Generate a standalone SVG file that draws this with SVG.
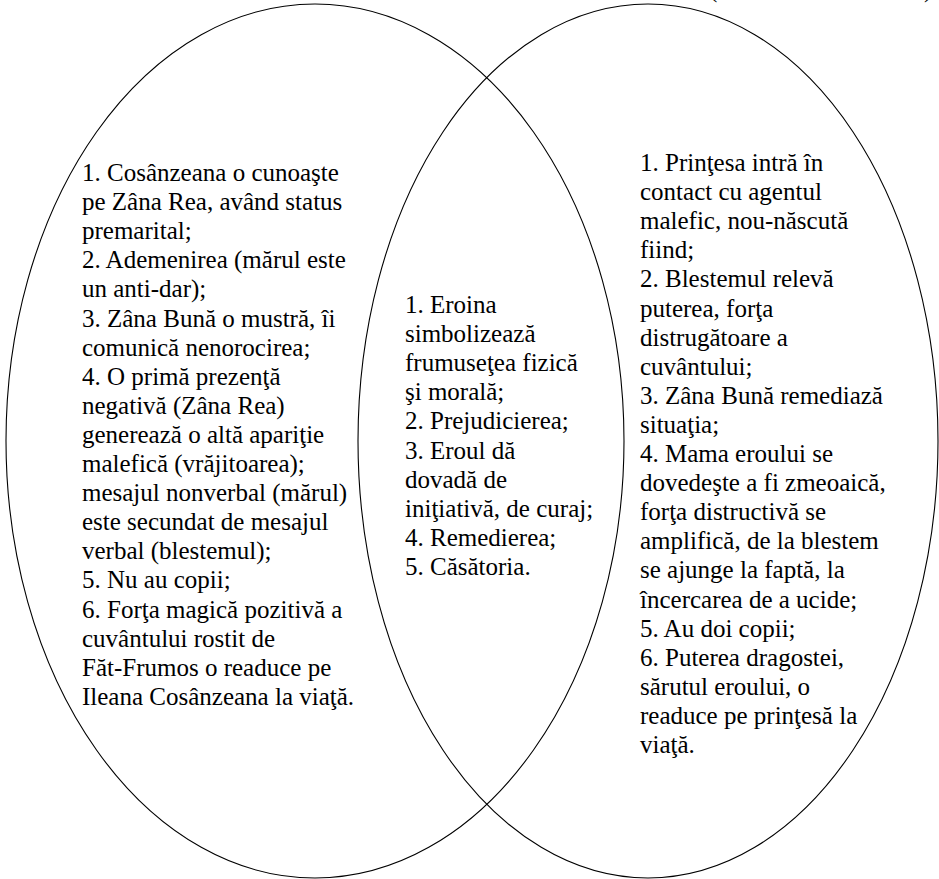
<svg xmlns="http://www.w3.org/2000/svg" width="939" height="879" viewBox="0 0 939 879">
<style>
.ell{fill:none;stroke:#000;stroke-width:1.1}
text{font-family:Tinos,'Liberation Serif','Noto Serif','DejaVu Serif',Times,'Times New Roman',serif;font-size:25px;fill:#000}
</style>
<rect width="939" height="879" fill="#fff"/>
<g id="connectors"></g>
<g id="cut-label">
<text x="709" y="-3">(</text>
<text x="924" y="-3">)</text>
</g>
<g id="left-set">
<ellipse class="ell" cx="315" cy="441" rx="309" ry="437"/>
<text>
<tspan x="82" y="181">1. Cosânzeana o cunoaşte</tspan>
<tspan x="82" dy="29.1">pe Zâna Rea, având status</tspan>
<tspan x="82" dy="29.1">premarital;</tspan>
<tspan x="82" dy="29.1">2. Ademenirea (mărul este</tspan>
<tspan x="82" dy="29.1">un anti-dar);</tspan>
<tspan x="82" dy="29.1">3. Zâna Bună o mustră, îi</tspan>
<tspan x="82" dy="29.1">comunică nenorocirea;</tspan>
<tspan x="82" dy="29.1">4. O primă prezenţă</tspan>
<tspan x="82" dy="29.1">negativă (Zâna Rea)</tspan>
<tspan x="82" dy="29.1">generează o altă apariţie</tspan>
<tspan x="82" dy="29.1">malefică (vrăjitoarea);</tspan>
<tspan x="82" dy="29.1">mesajul nonverbal (mărul)</tspan>
<tspan x="82" dy="29.1">este secundat de mesajul</tspan>
<tspan x="82" dy="29.1">verbal (blestemul);</tspan>
<tspan x="82" dy="29.1">5. Nu au copii;</tspan>
<tspan x="82" dy="29.1">6. Forţa magică pozitivă a</tspan>
<tspan x="82" dy="29.1">cuvântului rostit de</tspan>
<tspan x="82" dy="29.1">Făt-Frumos o readuce pe</tspan>
<tspan x="82" dy="29.1">Ileana Cosânzeana la viaţă.</tspan>
</text>
</g>
<g id="right-set">
<ellipse class="ell" cx="648" cy="441" rx="290" ry="437"/>
<text>
<tspan x="640" y="171">1. Prinţesa intră în</tspan>
<tspan x="640" dy="29.1">contact cu agentul</tspan>
<tspan x="640" dy="29.1">malefic, nou-născută</tspan>
<tspan x="640" dy="29.1">fiind;</tspan>
<tspan x="640" dy="29.1">2. Blestemul relevă</tspan>
<tspan x="640" dy="29.1">puterea, forţa</tspan>
<tspan x="640" dy="29.1">distrugătoare a</tspan>
<tspan x="640" dy="29.1">cuvântului;</tspan>
<tspan x="640" dy="29.1">3. Zâna Bună remediază</tspan>
<tspan x="640" dy="29.1">situaţia;</tspan>
<tspan x="640" dy="29.1">4. Mama eroului se</tspan>
<tspan x="640" dy="29.1">dovedeşte a fi zmeoaică,</tspan>
<tspan x="640" dy="29.1">forţa distructivă se</tspan>
<tspan x="640" dy="29.1">amplifică, de la blestem</tspan>
<tspan x="640" dy="29.1">se ajunge la faptă, la</tspan>
<tspan x="640" dy="29.1">încercarea de a ucide;</tspan>
<tspan x="640" dy="29.1">5. Au doi copii;</tspan>
<tspan x="640" dy="29.1">6. Puterea dragostei,</tspan>
<tspan x="640" dy="29.1">sărutul eroului, o</tspan>
<tspan x="640" dy="29.1">readuce pe prinţesă la</tspan>
<tspan x="640" dy="29.1">viaţă.</tspan>
</text>
</g>
<g id="common">
<text>
<tspan x="405" y="313">1. Eroina</tspan>
<tspan x="405" dy="29.1">simbolizează</tspan>
<tspan x="405" dy="29.1">frumuseţea fizică</tspan>
<tspan x="405" dy="29.1">şi morală;</tspan>
<tspan x="405" dy="29.1">2. Prejudicierea;</tspan>
<tspan x="405" dy="29.1">3. Eroul dă</tspan>
<tspan x="405" dy="29.1">dovadă de</tspan>
<tspan x="405" dy="29.1">iniţiativă, de curaj;</tspan>
<tspan x="405" dy="29.1">4. Remedierea;</tspan>
<tspan x="405" dy="29.1">5. Căsătoria.</tspan>
</text>
</g>
</svg>
